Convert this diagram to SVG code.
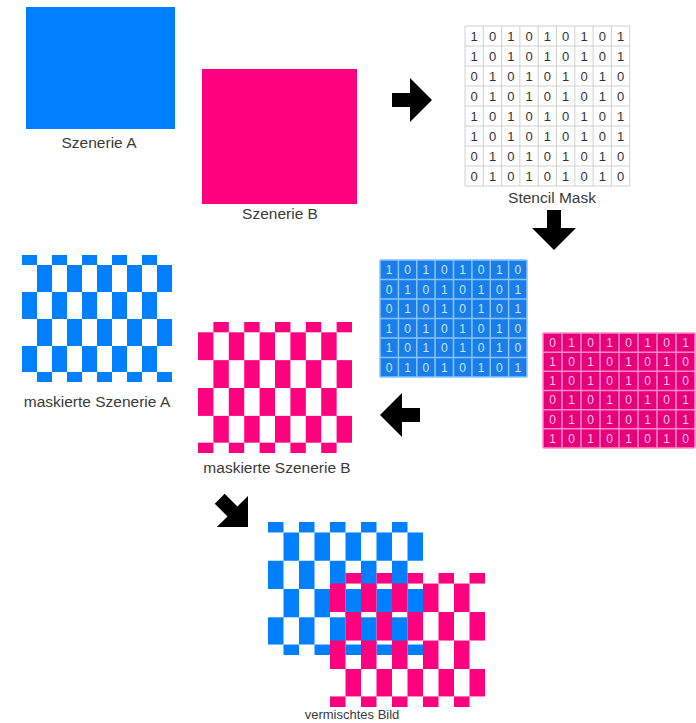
<svg xmlns="http://www.w3.org/2000/svg" xmlns:xlink="http://www.w3.org/1999/xlink" width="696" height="723" viewBox="0 0 696 723">
<style>
.lbl{font-family:"Liberation Sans",Arial,sans-serif;font-size:15.5px;fill:#3a3a3a;text-anchor:middle}
.sm{font-size:13px}
.dg{font-family:"Liberation Sans",Arial,sans-serif;font-size:13px;fill:#333;text-anchor:middle}
.dgb{font-family:"Liberation Sans",Arial,sans-serif;font-size:12px;fill:#c6e3ff;text-anchor:middle}
.dgp{font-family:"Liberation Sans",Arial,sans-serif;font-size:12px;fill:#ffc6e3;text-anchor:middle}
.blue{fill:#0080ff}
.pink{fill:#ff007f}
.arrow{fill:#000}
</style>
<defs>
<path id="arr" d="M0,0 L-22,-22 L-22,-7 L-40,-7 L-40,7 L-22,7 L-22,22 Z"/>
<g id="maskA">
<rect x="0" y="0" width="15" height="10"/><rect x="30" y="0" width="15" height="10"/><rect x="60" y="0" width="15" height="10"/><rect x="90" y="0" width="15" height="10"/><rect x="120" y="0" width="15" height="10"/>
<rect x="15" y="10" width="15" height="27"/><rect x="45" y="10" width="15" height="27"/><rect x="75" y="10" width="15" height="27"/><rect x="105" y="10" width="15" height="27"/><rect x="135" y="10" width="15" height="27"/>
<rect x="0" y="37" width="15" height="27"/><rect x="30" y="37" width="15" height="27"/><rect x="60" y="37" width="15" height="27"/><rect x="90" y="37" width="15" height="27"/><rect x="120" y="37" width="15" height="27"/>
<rect x="15" y="64" width="15" height="27"/><rect x="45" y="64" width="15" height="27"/><rect x="75" y="64" width="15" height="27"/><rect x="105" y="64" width="15" height="27"/><rect x="135" y="64" width="15" height="27"/>
<rect x="0" y="91" width="15" height="26"/><rect x="30" y="91" width="15" height="26"/><rect x="60" y="91" width="15" height="26"/><rect x="90" y="91" width="15" height="26"/><rect x="120" y="91" width="15" height="26"/>
<rect x="15" y="117" width="15" height="10"/><rect x="45" y="117" width="15" height="10"/><rect x="75" y="117" width="15" height="10"/><rect x="105" y="117" width="15" height="10"/><rect x="135" y="117" width="15" height="10"/>
</g>
<g id="maskB">
<rect x="15" y="0" width="15" height="10"/><rect x="45" y="0" width="15" height="10"/><rect x="75" y="0" width="15" height="10"/><rect x="105" y="0" width="15" height="10"/><rect x="135" y="0" width="15" height="10"/>
<rect x="0" y="10" width="15" height="27"/><rect x="30" y="10" width="15" height="27"/><rect x="60" y="10" width="15" height="27"/><rect x="90" y="10" width="15" height="27"/><rect x="120" y="10" width="15" height="27"/>
<rect x="15" y="37" width="15" height="27"/><rect x="45" y="37" width="15" height="27"/><rect x="75" y="37" width="15" height="27"/><rect x="105" y="37" width="15" height="27"/><rect x="135" y="37" width="15" height="27"/>
<rect x="0" y="64" width="15" height="27"/><rect x="30" y="64" width="15" height="27"/><rect x="60" y="64" width="15" height="27"/><rect x="90" y="64" width="15" height="27"/><rect x="120" y="64" width="15" height="27"/>
<rect x="15" y="91" width="15" height="26"/><rect x="45" y="91" width="15" height="26"/><rect x="75" y="91" width="15" height="26"/><rect x="105" y="91" width="15" height="26"/><rect x="135" y="91" width="15" height="26"/>
<rect x="0" y="117" width="15" height="10"/><rect x="30" y="117" width="15" height="10"/><rect x="60" y="117" width="15" height="10"/><rect x="90" y="117" width="15" height="10"/><rect x="120" y="117" width="15" height="10"/>
</g>
</defs>
<rect width="696" height="723" fill="#fff"/>

<g id="szenerieA">
<rect class="blue" x="26" y="7" width="149" height="122"/>
<text class="lbl" x="99" y="148">Szenerie A</text>
</g>

<g id="szenerieB">
<rect class="pink" x="202" y="69" width="155" height="135"/>
<text class="lbl" x="280" y="219">Szenerie B</text>
</g>

<g id="stencilMask">
<path d="M465,26V186M483.3,26V186M501.6,26V186M519.9,26V186M538.2,26V186M556.5,26V186M574.8,26V186M593.1,26V186M611.4,26V186M629.7,26V186M465,26H629.7M465,46H629.7M465,66H629.7M465,86H629.7M465,106H629.7M465,126H629.7M465,146H629.7M465,166H629.7M465,186H629.7" fill="none" stroke="#d0d0d0" stroke-width="1"/>
<text class="dg" x="474.2 492.5 510.8 529.1 547.4 565.7 584 602.3 620.6" y="40.7">101010101</text>
<text class="dg" x="474.2 492.5 510.8 529.1 547.4 565.7 584 602.3 620.6" y="60.7">101010101</text>
<text class="dg" x="474.2 492.5 510.8 529.1 547.4 565.7 584 602.3 620.6" y="80.7">010101010</text>
<text class="dg" x="474.2 492.5 510.8 529.1 547.4 565.7 584 602.3 620.6" y="100.7">010101010</text>
<text class="dg" x="474.2 492.5 510.8 529.1 547.4 565.7 584 602.3 620.6" y="120.7">101010101</text>
<text class="dg" x="474.2 492.5 510.8 529.1 547.4 565.7 584 602.3 620.6" y="140.7">101010101</text>
<text class="dg" x="474.2 492.5 510.8 529.1 547.4 565.7 584 602.3 620.6" y="160.7">010101010</text>
<text class="dg" x="474.2 492.5 510.8 529.1 547.4 565.7 584 602.3 620.6" y="180.7">010101010</text>
<text class="lbl" x="552" y="203">Stencil Mask</text>
</g>

<g id="maskBlue">
<rect x="380" y="260" width="147" height="117" fill="#1a7ee8"/>
<path d="M380,260V377M398.4,260V377M416.75,260V377M435.1,260V377M453.5,260V377M471.9,260V377M490.25,260V377M508.6,260V377M527,260V377M380,260H527M380,279.5H527M380,299H527M380,318.5H527M380,338H527M380,357.5H527M380,377H527" fill="none" stroke="#86c3ff" stroke-width="1.5"/>
<text class="dgb" x="389.2 407.6 425.9 444.3 462.7 481.1 499.4 517.8" y="274">10101010</text>
<text class="dgb" x="389.2 407.6 425.9 444.3 462.7 481.1 499.4 517.8" y="293.5">01010101</text>
<text class="dgb" x="389.2 407.6 425.9 444.3 462.7 481.1 499.4 517.8" y="313">01010101</text>
<text class="dgb" x="389.2 407.6 425.9 444.3 462.7 481.1 499.4 517.8" y="332.5">10101010</text>
<text class="dgb" x="389.2 407.6 425.9 444.3 462.7 481.1 499.4 517.8" y="352">10101010</text>
<text class="dgb" x="389.2 407.6 425.9 444.3 462.7 481.1 499.4 517.8" y="371.5">01010101</text>
</g>

<g id="maskPink">
<rect x="543" y="333" width="152" height="115" fill="#e8007a"/>
<path d="M543,333V448M562,333V448M581,333V448M600,333V448M619,333V448M638,333V448M657,333V448M676,333V448M695,333V448M543,333H695M543,352.2H695M543,371.3H695M543,390.5H695M543,409.7H695M543,428.8H695M543,448H695" fill="none" stroke="#ff8ac6" stroke-width="1.5"/>
<text class="dgp" x="552.5 571.5 590.5 609.5 628.5 647.5 666.5 685.5" y="346.9">01010101</text>
<text class="dgp" x="552.5 571.5 590.5 609.5 628.5 647.5 666.5 685.5" y="366">10101010</text>
<text class="dgp" x="552.5 571.5 590.5 609.5 628.5 647.5 666.5 685.5" y="385.2">10101010</text>
<text class="dgp" x="552.5 571.5 590.5 609.5 628.5 647.5 666.5 685.5" y="404.4">01010101</text>
<text class="dgp" x="552.5 571.5 590.5 609.5 628.5 647.5 666.5 685.5" y="423.5">01010101</text>
<text class="dgp" x="552.5 571.5 590.5 609.5 628.5 647.5 666.5 685.5" y="442.7">10101010</text>
</g>

<g id="maskierteA">
<use href="#maskA" xlink:href="#maskA" class="blue" transform="translate(22,255)"/>
<text class="lbl" x="97" y="407">maskierte Szenerie A</text>
</g>

<g id="maskierteB">
<use href="#maskB" xlink:href="#maskB" class="pink" transform="translate(198,322) scale(1.0267,1.0315)"/>
<text class="lbl" x="277" y="473">maskierte Szenerie B</text>
</g>

<g id="vermischt">
<use href="#maskA" xlink:href="#maskA" class="blue" transform="translate(268,522) scale(1.0333,1.0472)"/>
<use href="#maskB" xlink:href="#maskB" class="pink" transform="translate(330,573) scale(1.0333,1.0551)"/>
<text class="lbl sm" x="352" y="719">vermischtes Bild</text>
</g>

<g id="connectors">
<use href="#arr" xlink:href="#arr" class="arrow" transform="translate(432,100)"/>
<use href="#arr" xlink:href="#arr" class="arrow" transform="translate(554,250) rotate(90)"/>
<use href="#arr" xlink:href="#arr" class="arrow" transform="translate(380,415) rotate(180)"/>
<use href="#arr" xlink:href="#arr" class="arrow" transform="translate(248,527) rotate(45)"/>
</g>
</svg>
